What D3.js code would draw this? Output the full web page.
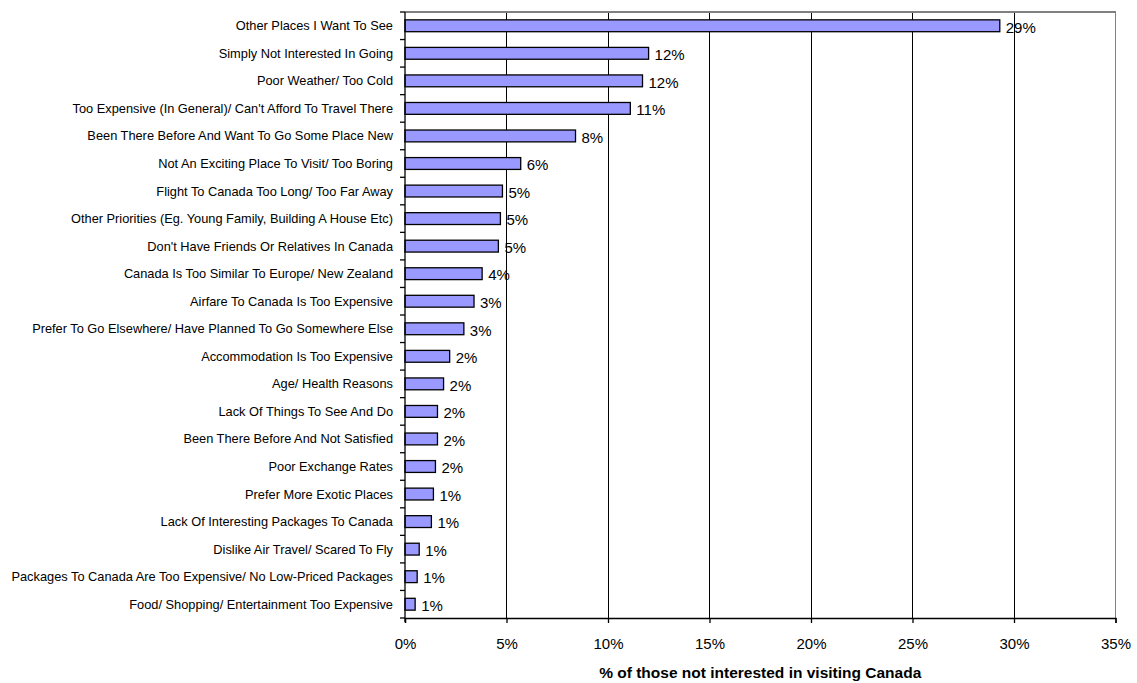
<!DOCTYPE html>
<html>
<head>
<meta charset="utf-8">
<script src="https://cdn.jsdelivr.net/npm/d3@7"></script>
<style>
  html, body { margin: 0; padding: 0; background: #fff; }
  svg { display: block; font-family: "Liberation Sans", Arial, sans-serif; }
</style>
</head>
<body>
<svg id="chart" width="1137" height="683"></svg>
<script>
// Reasons for not visiting Canada (percent of respondents)
const categories = [
  "Other Places I Want To See",
  "Simply Not Interested In Going",
  "Poor Weather/ Too Cold",
  "Too Expensive (In General)/ Can't Afford To Travel There",
  "Been There Before And Want To Go Some Place New",
  "Not An Exciting Place To Visit/ Too Boring",
  "Flight To Canada Too Long/ Too Far Away",
  "Other Priorities (Eg. Young Family, Building A House Etc)",
  "Don't Have Friends Or Relatives In Canada",
  "Canada Is Too Similar To Europe/ New Zealand",
  "Airfare To Canada Is Too Expensive",
  "Prefer To Go Elsewhere/ Have Planned To Go Somewhere Else",
  "Accommodation Is Too Expensive",
  "Age/ Health Reasons",
  "Lack Of Things To See And Do",
  "Been There Before And Not Satisfied",
  "Poor Exchange Rates",
  "Prefer More Exotic Places",
  "Lack Of Interesting Packages To Canada",
  "Dislike Air Travel/ Scared To Fly",
  "Packages To Canada Are Too Expensive/ No Low-Priced Packages",
  "Food/ Shopping/ Entertainment Too Expensive"
];
const values = [29.3, 12.0, 11.7, 11.1, 8.4, 5.7, 4.8, 4.7, 4.6, 3.8, 3.4, 2.9,
                2.2, 1.9, 1.6, 1.6, 1.5, 1.4, 1.3, 0.7, 0.6, 0.5];
const xTicks = [0, 5, 10, 15, 20, 25, 30, 35];
const axisTitle = "% of those not interested in visiting Canada";

const data = categories.map((c, i) => ({ category: c, value: values[i] }));

const svg = d3.select("#chart");
const plot = { left: 405, right: 1115.5, top: 12, bottom: 618 };

const x = d3.scaleLinear().domain([0, 35]).range([plot.left, plot.right]);
const y = d3.scaleBand().domain(categories).range([plot.top, plot.bottom]).paddingInner(0.57).paddingOuter(0.285);
const yb = d3.scaleBand().domain(categories).range([plot.top, plot.bottom]);

// vertical gridlines
svg.append("g").selectAll("line")
  .data(xTicks.filter(t => t > 0 && t < 35))
  .join("line")
  .attr("x1", d => x(d)).attr("x2", d => x(d))
  .attr("y1", plot.top).attr("y2", plot.bottom)
  .attr("stroke", "#000").attr("stroke-width", 1).attr("shape-rendering", "crispEdges");

// plot frame (top and right)
svg.append("path")
  .attr("d", `M${plot.left},${plot.top}H${plot.right}V${plot.bottom}`)
  .attr("fill", "none").attr("stroke", "#808080").attr("stroke-width", 1.5)
  .attr("shape-rendering", "crispEdges");

// bars
svg.append("g").selectAll("rect")
  .data(data)
  .join("rect")
  .attr("x", x(0))
  .attr("y", d => y(d.category))
  .attr("width", d => x(d.value) - x(0))
  .attr("height", y.bandwidth())
  .attr("fill", "#9999FF")
  .attr("stroke", "#000")
  .attr("stroke-width", 1.3);

// value labels
svg.append("g").selectAll("text")
  .data(data)
  .join("text")
  .attr("x", d => x(d.value) + 6)
  .attr("y", d => y(d.category) + y.bandwidth() / 2)
  .attr("dy", "0.45em")
  .attr("font-size", 15)
  .attr("fill", "#000")
  .text(d => Math.round(d.value) + "%");

// y axis with ticks at band boundaries
const yAxis = svg.append("g");
yAxis.append("line")
  .attr("x1", plot.left).attr("x2", plot.left)
  .attr("y1", plot.top).attr("y2", plot.bottom + 4)
  .attr("stroke", "#000").attr("stroke-width", 1.3);
yAxis.selectAll("line.tick")
  .data(categories.map(c => yb(c)).concat([plot.bottom]))
  .join("line").attr("class", "tick")
  .attr("x1", plot.left - 5).attr("x2", plot.left)
  .attr("y1", d => d).attr("y2", d => d)
  .attr("stroke", "#000").attr("stroke-width", 1.3);
yAxis.selectAll("text")
  .data(categories)
  .join("text")
  .attr("x", plot.left - 12)
  .attr("y", d => yb(d) + yb.bandwidth() / 2)
  .attr("dy", "0.35em")
  .attr("text-anchor", "end")
  .attr("font-size", 12.8)
  .attr("fill", "#000")
  .text(d => d);

// x axis
const xAxis = d3.axisBottom(x)
  .tickValues(xTicks)
  .tickSize(5)
  .tickFormat(d => d + "%");
const gx = svg.append("g").attr("transform", `translate(0,${plot.bottom})`).call(xAxis);
gx.select(".domain").attr("stroke", "#000").attr("stroke-width", 1.3);
gx.selectAll(".tick line").attr("stroke", "#000").attr("stroke-width", 1.3);
gx.selectAll(".tick text")
  .attr("font-family", "Liberation Sans, Arial, sans-serif")
  .attr("font-size", 15).attr("fill", "#000").attr("y", 20);

// axis title
svg.append("text")
  .attr("x", (plot.left + plot.right) / 2)
  .attr("y", 678)
  .attr("text-anchor", "middle")
  .attr("font-size", 15.5)
  .attr("font-weight", "bold")
  .attr("fill", "#000")
  .text(axisTitle);
</script>
</body>
</html>
